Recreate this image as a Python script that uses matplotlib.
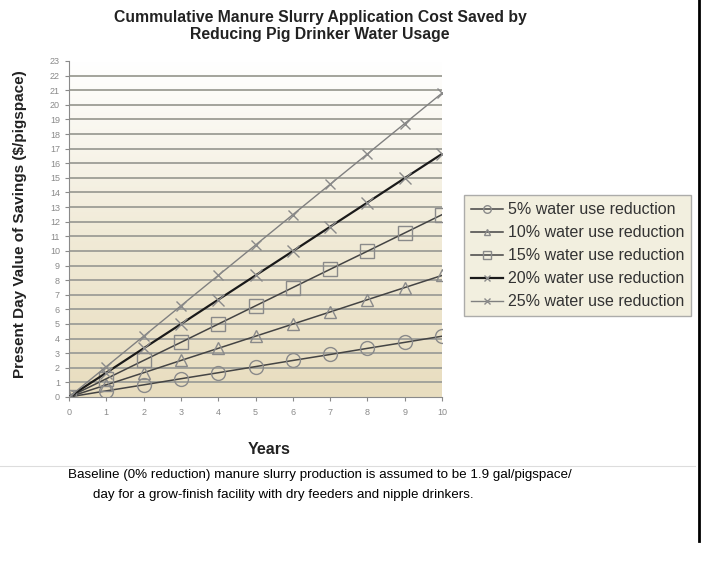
import numpy as np
import matplotlib
matplotlib.use("Agg")
import matplotlib.pyplot as plt
from matplotlib.colors import LinearSegmentedColormap

plt.rcParams["font.family"] = ["Liberation Sans", "DejaVu Sans"]

years = [0, 1, 2, 3, 4, 5, 6, 7, 8, 9, 10]
red5 = [0, 0.42, 0.83, 1.25, 1.66, 2.08, 2.50, 2.91, 3.33, 3.74, 4.16]
red10 = [0, 0.83, 1.66, 2.50, 3.33, 4.16, 4.99, 5.82, 6.66, 7.49, 8.32]
red15 = [0, 1.25, 2.50, 3.74, 4.99, 6.24, 7.49, 8.74, 9.98, 11.23, 12.48]
red20 = [0, 1.66, 3.33, 4.99, 6.66, 8.32, 9.98, 11.65, 13.31, 14.98, 16.64]
red25 = [0, 2.08, 4.16, 6.24, 8.32, 10.40, 12.48, 14.56, 16.64, 18.72, 20.80]
labels = ["5% water use reduction", "10% water use reduction", "15% water use reduction",
          "20% water use reduction", "25% water use reduction"]

fig = plt.figure(figsize=(7.02, 5.61), dpi=100)
ax = fig.add_axes([69 / 702, 1 - 397 / 561, 373 / 702, 336 / 561])

# background gradient, tan at bottom to white at top
cmap = LinearSegmentedColormap.from_list("bg", ["#E8DDBF", "#F1EBD8", "#FFFFFF"])
grad = np.linspace(0, 1, 256).reshape(-1, 1)
ax.imshow(grad, extent=[0, 10, 0, 23], origin="lower", aspect="auto", cmap=cmap, zorder=0)

for y in range(1, 23):
    ax.axhline(y, color="#A3A39B", lw=1.4, zorder=1)

series = [
    (red5, "o", "#444444", 1.1, 10),
    (red10, "^", "#444444", 1.1, 9),
    (red15, "s", "#444444", 1.1, 10),
    (red20, "x", "#1A1A1A", 1.6, 8),
    (red25, "x", "#808080", 1.0, 7),
]
for (vals, mk, col, lw, ms), lab in zip(series, labels):
    ax.plot(years, vals, color=col, lw=lw, marker=mk, ms=ms, mfc="none",
            mec="#8A8A8A", mew=1.0, label=lab, zorder=3)

ax.set_xlim(0, 10)
ax.set_ylim(0, 23)
ax.set_xticks(years)
ax.set_yticks(range(0, 24))
ax.tick_params(labelsize=6.5, colors="#8A8A8A", length=3, width=0.8)
ax.tick_params(axis="x", pad=5)
for s in ["top", "right"]:
    ax.spines[s].set_visible(False)
for s in ["left", "bottom"]:
    ax.spines[s].set_color("#8A8A8A")

fig.text(269 / 702, 1 - 450 / 561, "Years", fontsize=11.5, fontweight="bold",
         color="#222222", ha="center", va="center")
fig.text(20 / 702, 1 - 224 / 561, "Present Day Value of Savings ($/pigspace)", fontsize=11,
         fontweight="bold", color="#222222", rotation=90, ha="center", va="center")
fig.text(320 / 702, 1 - 26 / 561,
         "Cummulative Manure Slurry Application Cost Saved by\nReducing Pig Drinker Water Usage",
         fontsize=11.3, fontweight="bold", color="#222222", ha="center", va="center",
         linespacing=1.15)

leg = ax.legend(loc="upper left", bbox_to_anchor=(464 / 702, 1 - 195 / 561),
                bbox_transform=fig.transFigure, fontsize=11.5, frameon=True,
                fancybox=False, handlelength=2.0, handletextpad=0.3,
                labelspacing=0.5, borderpad=0.45, borderaxespad=0, markerscale=0.55)
leg.get_frame().set_facecolor("#EFEBD8")
leg.get_frame().set_edgecolor("#999999")
for t in leg.get_texts():
    t.set_color("#333333")

# separator and right frame line
fig.add_artist(plt.Line2D([0, 695 / 702], [1 - 466 / 561] * 2, color="#DDDDDD", lw=0.8))
fig.add_artist(plt.Line2D([699 / 702] * 2, [1 - 541 / 561, 1], color="black", lw=2))

cap = ["Liberation Sans Narrow", "Liberation Sans", "DejaVu Sans"]
fig.text(68 / 702, 1 - 475 / 561, "Baseline (0% reduction) manure slurry production is assumed to be 1.9 gal/pigspace/",
         fontsize=9.6, family=cap, va="center", color="black")
fig.text(93 / 702, 1 - 495 / 561, "day for a grow-finish facility with dry feeders and nipple drinkers.",
         fontsize=9.6, family=cap, va="center", color="black")

fig.savefig("out.png", dpi=100)
